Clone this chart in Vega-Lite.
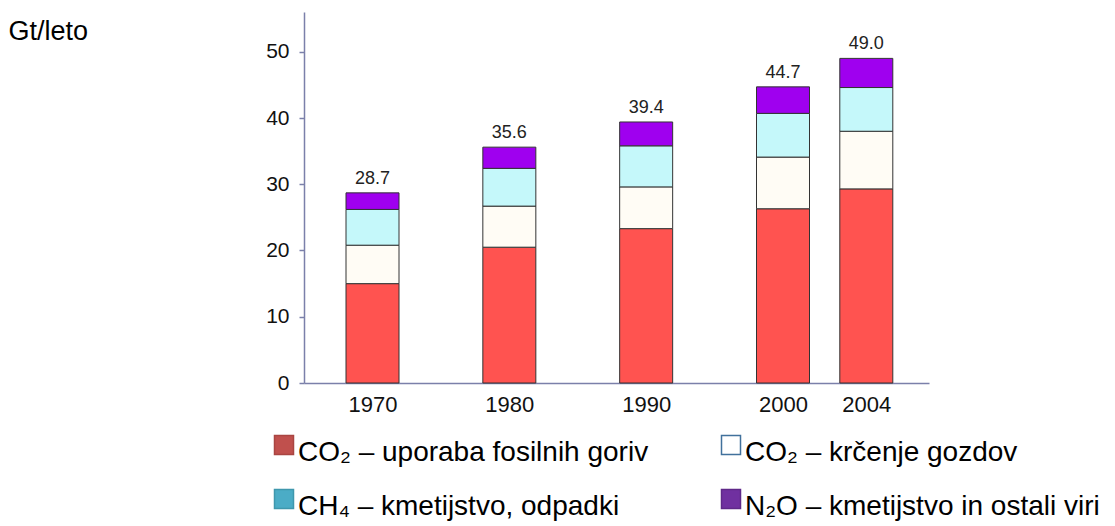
{
  "$schema": "https://vega.github.io/schema/vega-lite/v6.json",
  "width": 625,
  "height": 371,
  "autosize": {"type": "none"},
  "padding": {"left": 304, "top": 12, "right": 186, "bottom": 143},
  "background": "white",
  "config": {"view": {"stroke": null}, "font": "Liberation Sans"},
  "data": {"values": [
    {"year": 1970, "series": "CO₂ – uporaba fosilnih goriv", "k": 1, "value": 15.0},
    {"year": 1970, "series": "CO₂ – krčenje gozdov", "k": 2, "value": 5.8},
    {"year": 1970, "series": "CH₄ – kmetijstvo, odpadki", "k": 3, "value": 5.4},
    {"year": 1970, "series": "N₂O – kmetijstvo in ostali viri", "k": 4, "value": 2.5},
    {"year": 1980, "series": "CO₂ – uporaba fosilnih goriv", "k": 1, "value": 20.5},
    {"year": 1980, "series": "CO₂ – krčenje gozdov", "k": 2, "value": 6.2},
    {"year": 1980, "series": "CH₄ – kmetijstvo, odpadki", "k": 3, "value": 5.7},
    {"year": 1980, "series": "N₂O – kmetijstvo in ostali viri", "k": 4, "value": 3.2},
    {"year": 1990, "series": "CO₂ – uporaba fosilnih goriv", "k": 1, "value": 23.3},
    {"year": 1990, "series": "CO₂ – krčenje gozdov", "k": 2, "value": 6.3},
    {"year": 1990, "series": "CH₄ – kmetijstvo, odpadki", "k": 3, "value": 6.2},
    {"year": 1990, "series": "N₂O – kmetijstvo in ostali viri", "k": 4, "value": 3.6},
    {"year": 2000, "series": "CO₂ – uporaba fosilnih goriv", "k": 1, "value": 26.3},
    {"year": 2000, "series": "CO₂ – krčenje gozdov", "k": 2, "value": 7.8},
    {"year": 2000, "series": "CH₄ – kmetijstvo, odpadki", "k": 3, "value": 6.6},
    {"year": 2000, "series": "N₂O – kmetijstvo in ostali viri", "k": 4, "value": 4.0},
    {"year": 2004, "series": "CO₂ – uporaba fosilnih goriv", "k": 1, "value": 29.3},
    {"year": 2004, "series": "CO₂ – krčenje gozdov", "k": 2, "value": 8.7},
    {"year": 2004, "series": "CH₄ – kmetijstvo, odpadki", "k": 3, "value": 6.6},
    {"year": 2004, "series": "N₂O – kmetijstvo in ostali viri", "k": 4, "value": 4.4}
  ]},
  "encoding": {
    "x": {
      "field": "year",
      "type": "quantitative",
      "scale": {"domain": [1965, 1970, 2000, 2004, 2007], "range": [0, 68.5, 479, 562.3, 625], "nice": false, "zero": false},
      "axis": {
        "values": [1970, 1980, 1990, 2000, 2004],
        "format": "d",
        "title": null,
        "grid": false,
        "ticks": false,
        "domainColor": "#7b80aa",
        "domainWidth": 1.5,
        "labelFontSize": 22,
        "labelColor": "#111111",
        "labelPadding": 11,
        "labelFlush": false
      }
    }
  },
  "layer": [
    {
      "mark": {"type": "bar", "width": 53, "stroke": "#333333", "strokeWidth": 1},
      "encoding": {
        "y": {
          "field": "value",
          "type": "quantitative",
          "stack": "zero",
          "scale": {"domain": [0, 56], "nice": false},
          "axis": {
            "values": [0, 10, 20, 30, 40, 50],
            "grid": false,
            "domainColor": "#7b80aa",
            "domainWidth": 1.5,
            "tickColor": "#7b80aa",
            "tickSize": 5,
            "tickWidth": 1.5,
            "labelFontSize": 21,
            "labelColor": "#111111",
            "labelPadding": 10,
            "title": "Gt/leto",
            "titleAngle": 0,
            "titleX": -296,
            "titleY": 27,
            "titleAlign": "left",
            "titleBaseline": "alphabetic",
            "titleFontSize": 27,
            "titleFontWeight": "normal",
            "titleColor": "#000000"
          }
        },
        "fill": {
          "field": "series",
          "type": "nominal",
          "scale": {
            "domain": ["N₂O – kmetijstvo in ostali viri", "CH₄ – kmetijstvo, odpadki", "CO₂ – krčenje gozdov", "CO₂ – uporaba fosilnih goriv"],
            "range": ["#9f00ef", "#c5f8fa", "#fffcf5", "#ff5350"]
          },
          "legend": null
        },
        "order": {"field": "k", "type": "quantitative", "sort": "ascending"}
      }
    },
    {
      "mark": {"type": "bar", "width": 53, "strokeWidth": 0},
      "encoding": {
        "y": {"datum": 0},
        "y2": {"datum": 0},
        "color": {
          "field": "series",
          "type": "nominal",
          "scale": {
            "domain": ["CO₂ – uporaba fosilnih goriv", "CO₂ – krčenje gozdov", "CH₄ – kmetijstvo, odpadki", "N₂O – kmetijstvo in ostali viri"],
            "range": ["#c0504d", "#ffffff", "#4bacc6", "#7030a0"]
          },
          "legend": {
            "orient": "none",
            "direction": "horizontal",
            "legendX": -34,
            "legendY": 419,
            "columns": 2,
            "columnPadding": 68,
            "rowPadding": 18,
            "symbolType": "square",
            "symbolSize": 361,
            "symbolStrokeWidth": 1.5,
            "labelFontSize": 28,
            "labelFont": "Liberation Sans",
            "labelColor": "#000000",
            "labelLimit": 700,
            "labelOffset": 0,
            "title": null,
            "padding": 0,
            "encode": {"labels": {"update": {"dy": {"value": 8}}}}
          }
        },
        "stroke": {
          "field": "series",
          "type": "nominal",
          "scale": {
            "domain": ["CO₂ – uporaba fosilnih goriv", "CO₂ – krčenje gozdov", "CH₄ – kmetijstvo, odpadki", "N₂O – kmetijstvo in ostali viri"],
            "range": ["#a94542", "#41719c", "#3f97ad", "#5f2889"]
          }
        }
      }
    },
    {
      "transform": [{"aggregate": [{"op": "sum", "field": "value", "as": "total"}], "groupby": ["year"]}],
      "mark": {"type": "text", "baseline": "bottom", "dy": -5, "fontSize": 18, "color": "#222222"},
      "encoding": {
        "y": {"field": "total", "type": "quantitative"},
        "text": {"field": "total", "type": "quantitative", "format": ".1f"}
      }
    }
  ]
}
